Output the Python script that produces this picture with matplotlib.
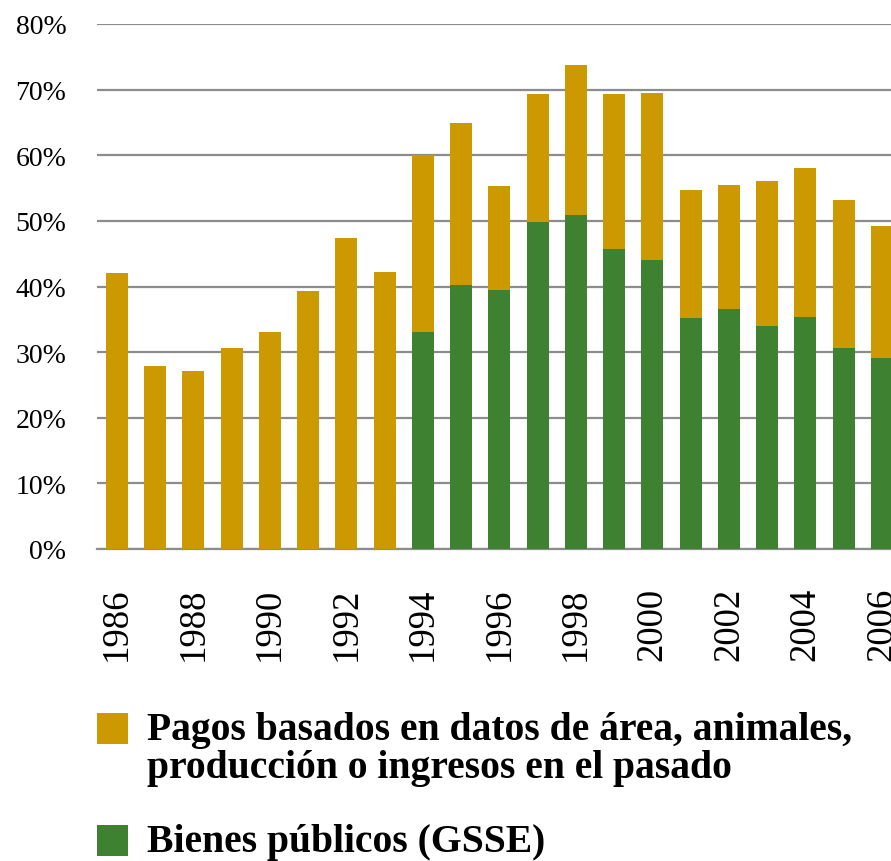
import matplotlib
matplotlib.use("Agg")
import matplotlib.pyplot as plt
from matplotlib.patches import Rectangle
import numpy as np

years = list(range(1986, 2007))
year_labels = [str(y) if (y - 1986) % 2 == 0 else "" for y in years]
bienes_publicos = [0, 0, 0, 0, 0, 0, 0, 0,
                   33.1, 40.2, 39.5, 49.9, 50.9, 45.7, 44.1,
                   35.2, 36.6, 34.0, 35.3, 30.6, 29.1]
total = [42.1, 27.9, 27.05, 30.7, 33.0, 39.3, 47.4, 42.2,
         60.1, 64.9, 55.3, 69.3, 73.7, 69.4, 69.5,
         54.7, 55.4, 56.1, 58.0, 53.2, 49.2]
pagos_pasado = [t - b for t, b in zip(total, bienes_publicos)]
y_ticks = [0, 10, 20, 30, 40, 50, 60, 70, 80]
legend_labels = ["Pagos basados en datos de área, animales,\nproducción o ingresos en el pasado",
                 "Bienes públicos (GSSE)"]

GOLD = "#CC9900"
GREEN = "#3D8131"
GRID = "#8C8C8C"
FONT = ["Liberation Serif", "DejaVu Serif"]

W, H = 891, 862
fig = plt.figure(figsize=(W / 100, H / 100), dpi=100)
plt.rcParams["font.family"] = FONT

ax_left = 97 / W
ax_w = 21.04 * 38.25 / W
ax_bottom = 1 - 550 / H
ax_h = (550 - 25) / H
ax = fig.add_axes([ax_left, ax_bottom, ax_w, ax_h])

x = np.arange(len(years))
ax.bar(x, bienes_publicos, width=0.57, color=GREEN, zorder=3)
ax.bar(x, pagos_pasado, bottom=bienes_publicos, width=0.57, color=GOLD, zorder=3)

ax.set_xlim(-0.52, 20.52)
ax.set_ylim(0, 80)
ax.set_yticks(y_ticks)
ax.set_yticklabels([f"{v}%" for v in y_ticks], fontsize=20, family=FONT)
ax.set_xticks(x)
ax.set_xticklabels(year_labels, rotation=90, fontsize=26.5, family=FONT, va="top", ha="center")
ax.tick_params(axis="y", length=0, pad=22)
ax.tick_params(axis="x", length=0, pad=27)
ax.yaxis.grid(True, color=GRID, linewidth=1.6, zorder=0)
ax.set_axisbelow(True)
for s in ["top", "right", "left"]:
    ax.spines[s].set_visible(False)
ax.spines["bottom"].set_color(GRID)
ax.spines["bottom"].set_linewidth(1.6)

# legend (manual)
def fy(py):
    return 1 - py / H

sq = 31
fig.patches.append(Rectangle((97 / W, fy(745)), sq / W, sq / H, transform=fig.transFigure,
                             facecolor=GOLD, edgecolor="none"))
fig.patches.append(Rectangle((97 / W, fy(857)), sq / W, sq / H, transform=fig.transFigure,
                             facecolor=GREEN, edgecolor="none"))
lines = legend_labels[0].split("\n")
fig.text(147 / W, fy(740), lines[0], fontsize=28.5, fontweight="bold", family=FONT, va="baseline", ha="left")
fig.text(147 / W, fy(778), lines[1], fontsize=28.5, fontweight="bold", family=FONT, va="baseline", ha="left")
fig.text(147 / W, fy(852), legend_labels[1], fontsize=28.5, fontweight="bold", family=FONT, va="baseline", ha="left")

fig.savefig("out.png", dpi=100)
